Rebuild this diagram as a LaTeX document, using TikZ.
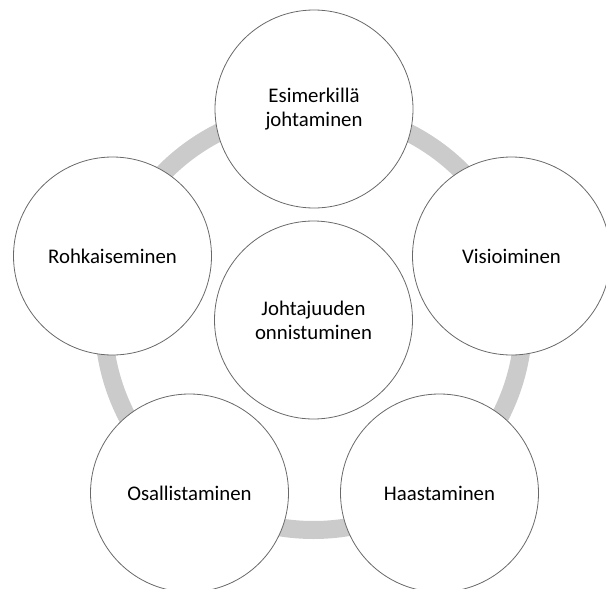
\documentclass[tikz,border=0pt]{standalone}
\usepackage{fontspec}
\setmainfont{Carlito}
\definecolor{ringgray}{RGB}{203,203,203}
\definecolor{edgegray}{RGB}{105,105,105}
\tikzset{
  bubble/.style={circle, draw=edgegray, line width=0.8pt, fill=white,
    minimum size=198pt, inner sep=0pt, align=center,
    font=\fontsize{20.8}{24}\selectfont, text=black},
  ring/.style={draw=ringgray, line width=18pt}
}
\begin{document}
\begin{tikzpicture}[x=1pt,y=-1pt]
\useasboundingbox (0,0) rectangle (606,589);
\coordinate (ctr) at (313.5,320);
\draw[ring] (ctr) circle[radius=210];
\node[bubble] (top) at (314,109) {Esimerkillä\\johtaminen};
\node[bubble] (right) at (511.5,256) {Visioiminen};
\node[bubble] (left) at (112.5,256) {Rohkaiseminen};
\node[bubble] (bl) at (189.5,493) {Osallistaminen};
\node[bubble] (br) at (439.5,493) {Haastaminen};
\node[bubble] (center) at (ctr) {Johtajuuden\\onnistuminen};
\end{tikzpicture}
\end{document}
